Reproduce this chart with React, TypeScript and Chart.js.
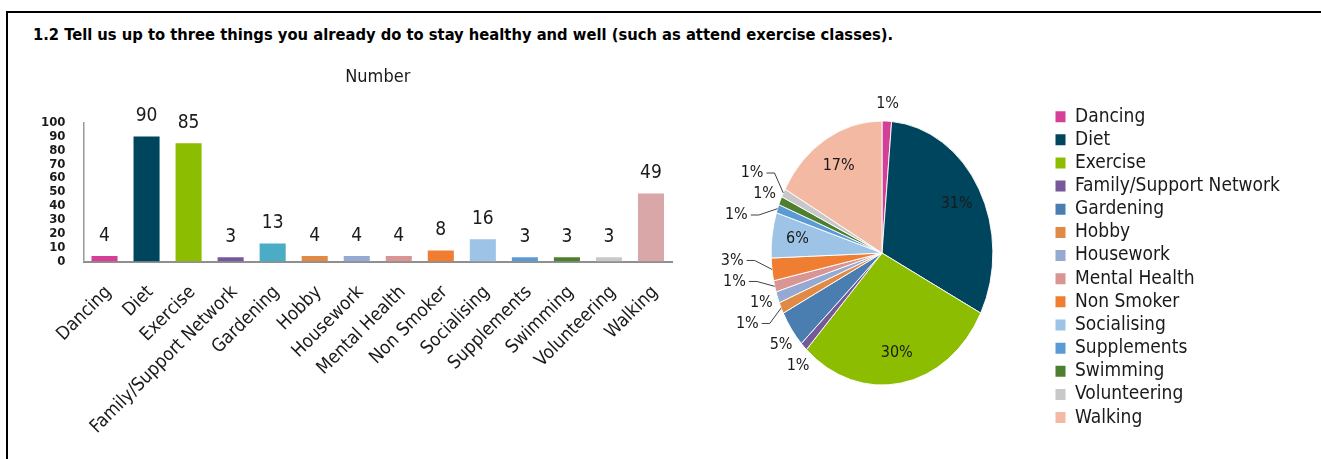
import React, { useEffect, useRef } from 'react';
import { Chart, registerables } from 'chart.js';

Chart.register(...registerables);

const FONT = '"DejaVu Sans Condensed", "DejaVu Sans", sans-serif';

const questionTitle =
  '1.2 Tell us up to three things you already do to stay healthy and well (such as attend exercise classes).';
const barTitle = 'Number';

const categories = [
  'Dancing',
  'Diet',
  'Exercise',
  'Family/Support Network',
  'Gardening',
  'Hobby',
  'Housework',
  'Mental Health',
  'Non Smoker',
  'Socialising',
  'Supplements',
  'Swimming',
  'Volunteering',
  'Walking',
];

const counts = [4, 90, 85, 3, 13, 4, 4, 4, 8, 16, 3, 3, 3, 49];

const pieLabels = ['1%', '31%', '30%', '1%', '5%', '1%', '1%', '1%', '3%', '6%', '1%', '1%', '1%', '17%'];

const barColors = [
  '#D63F98', '#00455E', '#8CBD00', '#76599A', '#4BACC6', '#E08A45', '#96A9D3',
  '#D99594', '#F07E32', '#9DC3E6', '#5B9BD5', '#4E7F2E', '#C8C8C8', '#D9A7A8',
];

const pieColors = [
  '#D63F98', '#00455E', '#8CBD00', '#76599A', '#4A7EB0', '#E08A45', '#96A9D3',
  '#D99594', '#F07E32', '#9DC3E6', '#5B9BD5', '#4E7F2E', '#C8C8C8', '#F4B9A2',
];

const Y_MIN = 0;
const Y_MAX = 100;
const Y_STEP = 10;

// pie drawn as an ellipse (horizontal squeeze)
const SQUEEZE = 0.84;
const INSIDE_MIN = 15;
const OUT_OFFSET = 17;
const LABEL_GAP = 21;
const PUSH_OUT = 22;

const barValuePlugin = {
  id: 'barValueLabels',
  afterDatasetsDraw(chart: any) {
    const { ctx } = chart;
    const meta = chart.getDatasetMeta(0);
    ctx.save();
    ctx.font = `19px ${FONT}`;
    ctx.fillStyle = '#1a1a1a';
    ctx.textAlign = 'center';
    ctx.textBaseline = 'alphabetic';
    meta.data.forEach((bar: any, i: number) => {
      ctx.fillText(String(counts[i]), bar.x, bar.y - 15);
    });
    ctx.restore();
  },
};

const pieEllipsePlugin = {
  id: 'pieEllipse',
  beforeDatasetsDraw(chart: any) {
    const arc = chart.getDatasetMeta(0).data[0];
    const ctx = chart.ctx;
    ctx.save();
    ctx.translate(arc.x, arc.y);
    ctx.scale(SQUEEZE, 1);
    ctx.translate(-arc.x, -arc.y);
  },
  afterDatasetsDraw(chart: any) {
    const ctx = chart.ctx;
    ctx.restore();
    const arcs = chart.getDatasetMeta(0).data;
    const items = arcs.map((a: any, i: number) => {
      const p = a.getProps(['x', 'y', 'startAngle', 'endAngle', 'outerRadius'], true);
      const mid = (p.startAngle + p.endAngle) / 2;
      const inside = counts[i] >= INSIDE_MIN;
      const R = p.outerRadius;
      const c = Math.cos(mid);
      const s = Math.sin(mid);
      const nx = inside ? p.x + 0.77 * R * SQUEEZE * c : p.x + (R * SQUEEZE + OUT_OFFSET) * c;
      const ny = inside ? p.y + 0.77 * R * s : p.y + (R + OUT_OFFSET) * s;
      return {
        i,
        inside,
        cx: p.x,
        cy: p.y,
        R,
        cos: c,
        nx,
        ny,
        ex: p.x + R * SQUEEZE * c,
        ey: p.y + R * s,
        x: nx,
        y: ny,
        line: false,
      };
    });
    const resolve = (side: any[], left: boolean) => {
      side.sort((a, b) => a.ny - b.ny);
      const groups = side.map((it) => ({ items: [it], top: it.ny }));
      let changed = true;
      while (changed) {
        changed = false;
        for (let k = 0; k < groups.length - 1; k++) {
          const a = groups[k];
          const b = groups[k + 1];
          if (a.top + a.items.length * LABEL_GAP > b.top) {
            const merged = a.items.concat(b.items);
            const mean = merged.reduce((sum: number, it: any) => sum + it.ny, 0) / merged.length;
            groups.splice(k, 2, { items: merged, top: mean - ((merged.length - 1) * LABEL_GAP) / 2 });
            changed = true;
            break;
          }
        }
      }
      groups.forEach((g) =>
        g.items.forEach((it: any, k: number) => {
          it.y = g.top + k * LABEL_GAP;
          const lrX = it.R * SQUEEZE + OUT_OFFSET;
          const lrY = it.R + OUT_OFFSET;
          const d = (it.y - it.cy) / lrY;
          let w = Math.sqrt(Math.max(0, 1 - d * d)) * lrX;
          it.line = Math.abs(it.y - it.ny) > 7;
          if (it.line) w += PUSH_OUT;
          it.x = left ? it.cx - w : it.cx + w;
        })
      );
    };
    const outside = items.filter((it: any) => !it.inside);
    resolve(outside.filter((it: any) => it.cos < 0), true);
    resolve(outside.filter((it: any) => it.cos >= 0), false);

    ctx.save();
    ctx.font = `16px ${FONT}`;
    ctx.textAlign = 'center';
    ctx.textBaseline = 'middle';
    items.forEach((it: any) => {
      const text = pieLabels[it.i];
      ctx.fillStyle = '#1a1a1a';
      ctx.fillText(text, it.x, it.y);
      if (it.line) {
        const w = ctx.measureText(text).width;
        const left = it.cos < 0;
        const sx = left ? it.x + w / 2 + 3 : it.x - w / 2 - 3;
        const mx = left ? sx + 8 : sx - 8;
        ctx.strokeStyle = '#404040';
        ctx.lineWidth = 1;
        ctx.beginPath();
        ctx.moveTo(sx, it.y);
        ctx.lineTo(mx, it.y);
        ctx.lineTo(it.ex, it.ey);
        ctx.stroke();
      }
    });
    ctx.restore();
  },
};

// Layout constants (page pixels)
const BAR_LEFT = 20;
const BAR_TOP = 58;
const BAR_W = 680;
const BAR_H = 401;
const PLOT_LEFT = 83.5;
const PLOT_RIGHT = 672;
const PLOT_BOTTOM = 261.5;

const PIE_LEFT = 700;
const PIE_TOP = 88;
const PIE_W = 621;
const PIE_H = 346;
const PIE_CX = 882;
const LEGEND_TEXT_X = 1075;
const LEGEND_FONT = 19;
const LEGEND_PAD = 4.15;
const LEGEND_BOX = 10;

export default function App() {
  const barRef = useRef<HTMLCanvasElement>(null);
  const pieRef = useRef<HTMLCanvasElement>(null);

  useEffect(() => {
    Chart.defaults.font.family = FONT;

    const bar = new Chart(barRef.current as HTMLCanvasElement, {
      type: 'bar',
      data: {
        labels: categories,
        datasets: [
          {
            data: counts,
            backgroundColor: barColors,
            borderWidth: 0,
            barPercentage: 0.62,
            categoryPercentage: 1,
          },
        ],
      },
      options: {
        responsive: false,
        animation: false,
        devicePixelRatio: 1,
        events: [],
        layout: { padding: { left: 0, right: BAR_LEFT + BAR_W - PLOT_RIGHT, top: 0, bottom: 0 } },
        plugins: {
          legend: { display: false },
          tooltip: { enabled: false },
          title: {
            display: true,
            text: barTitle,
            fullSize: false,
            color: '#1a1a1a',
            font: { size: 18, family: FONT, weight: 'normal', lineHeight: 1.2 },
            padding: { top: 8.7, bottom: 34.2 },
          },
        },
        scales: {
          x: {
            grid: { display: false, drawTicks: false },
            border: { display: true, color: '#8f8f8f', width: 2 },
            ticks: {
              autoSkip: false,
              minRotation: 45,
              maxRotation: 45,
              padding: 20,
              labelOffset: 4,
              color: '#1a1a1a',
              font: { size: 18.5, family: FONT },
            },
            afterFit(scale: any) {
              scale.height = BAR_TOP + BAR_H - PLOT_BOTTOM;
            },
          },
          y: {
            min: Y_MIN,
            max: Y_MAX,
            grid: { display: false, drawTicks: false },
            border: { display: true, color: '#9a9a9a', width: 1.5 },
            ticks: {
              stepSize: Y_STEP,
              autoSkip: false,
              padding: 18,
              color: '#1a1a1a',
              font: { size: 13, family: FONT, weight: 'bold' },
            },
            afterFit(scale: any) {
              scale.width = PLOT_LEFT - BAR_LEFT;
            },
          },
        },
      } as any,
      plugins: [barValuePlugin],
    });

    // legend geometry from font metrics
    const mctx = document.createElement('canvas').getContext('2d') as CanvasRenderingContext2D;
    mctx.font = `${LEGEND_FONT}px ${FONT}`;
    const maxTextW = Math.max(...categories.map((c) => mctx.measureText(c).width));
    const pieRight = PIE_LEFT + PIE_W;
    const padR = Math.max(0, pieRight - 10 - LEGEND_TEXT_X - maxTextW);
    const legendW = LEGEND_PAD + LEGEND_BOX + LEGEND_FONT / 2 + maxTextW + 10;
    const legendLeft = pieRight - padR - legendW;
    const padL = Math.max(0, 2 * PIE_CX - legendLeft - PIE_LEFT);

    const baseGen = (Chart as any).overrides.pie.plugins.legend.labels.generateLabels;

    const pie = new Chart(pieRef.current as HTMLCanvasElement, {
      type: 'pie',
      data: {
        labels: categories,
        datasets: [
          {
            data: counts,
            backgroundColor: pieColors,
            borderColor: '#ffffff',
            borderWidth: 1,
          },
        ],
      },
      options: {
        responsive: false,
        animation: false,
        devicePixelRatio: 1,
        events: [],
        radius: 132,
        layout: { padding: { left: padL, right: padR, top: 15, bottom: 0 } },
        plugins: {
          tooltip: { enabled: false },
          legend: {
            display: true,
            position: 'right',
            align: 'start',
            labels: {
              boxWidth: LEGEND_BOX,
              boxHeight: 11,
              padding: LEGEND_PAD,
              color: '#1a1a1a',
              font: { size: LEGEND_FONT, family: FONT },
              generateLabels: (chart: any) =>
                baseGen(chart).map((l: any) => ({ ...l, lineWidth: 0, strokeStyle: l.fillStyle })),
            },
          },
          title: {
            display: true,
            position: 'bottom',
            text: '',
            padding: { top: 21, bottom: 0 },
            font: { size: 10, lineHeight: 1 },
          },
        },
      } as any,
      plugins: [pieEllipsePlugin],
    });

    return () => {
      bar.destroy();
      pie.destroy();
    };
  }, []);

  return (
    <div
      style={{
        position: 'fixed',
        left: 0,
        top: 0,
        width: 1321,
        height: 459,
        overflow: 'hidden',
        background: '#ffffff',
      }}
    >
      <div
        style={{
          position: 'absolute',
          left: 6,
          top: 11,
          width: 1400,
          height: 500,
          borderTop: '2px solid #000',
          borderLeft: '2px solid #000',
        }}
      />
      <div
        style={{
          position: 'absolute',
          left: 33,
          top: 25,
          font: `bold 16.4px ${FONT}`,
          lineHeight: '20px',
          whiteSpace: 'nowrap',
          color: '#000',
        }}
      >
        {questionTitle}
      </div>
      <canvas
        ref={barRef}
        width={BAR_W}
        height={BAR_H}
        style={{ position: 'absolute', left: BAR_LEFT, top: BAR_TOP, width: BAR_W, height: BAR_H }}
      />
      <canvas
        ref={pieRef}
        width={PIE_W}
        height={PIE_H}
        style={{ position: 'absolute', left: PIE_LEFT, top: PIE_TOP, width: PIE_W, height: PIE_H }}
      />
    </div>
  );
}
